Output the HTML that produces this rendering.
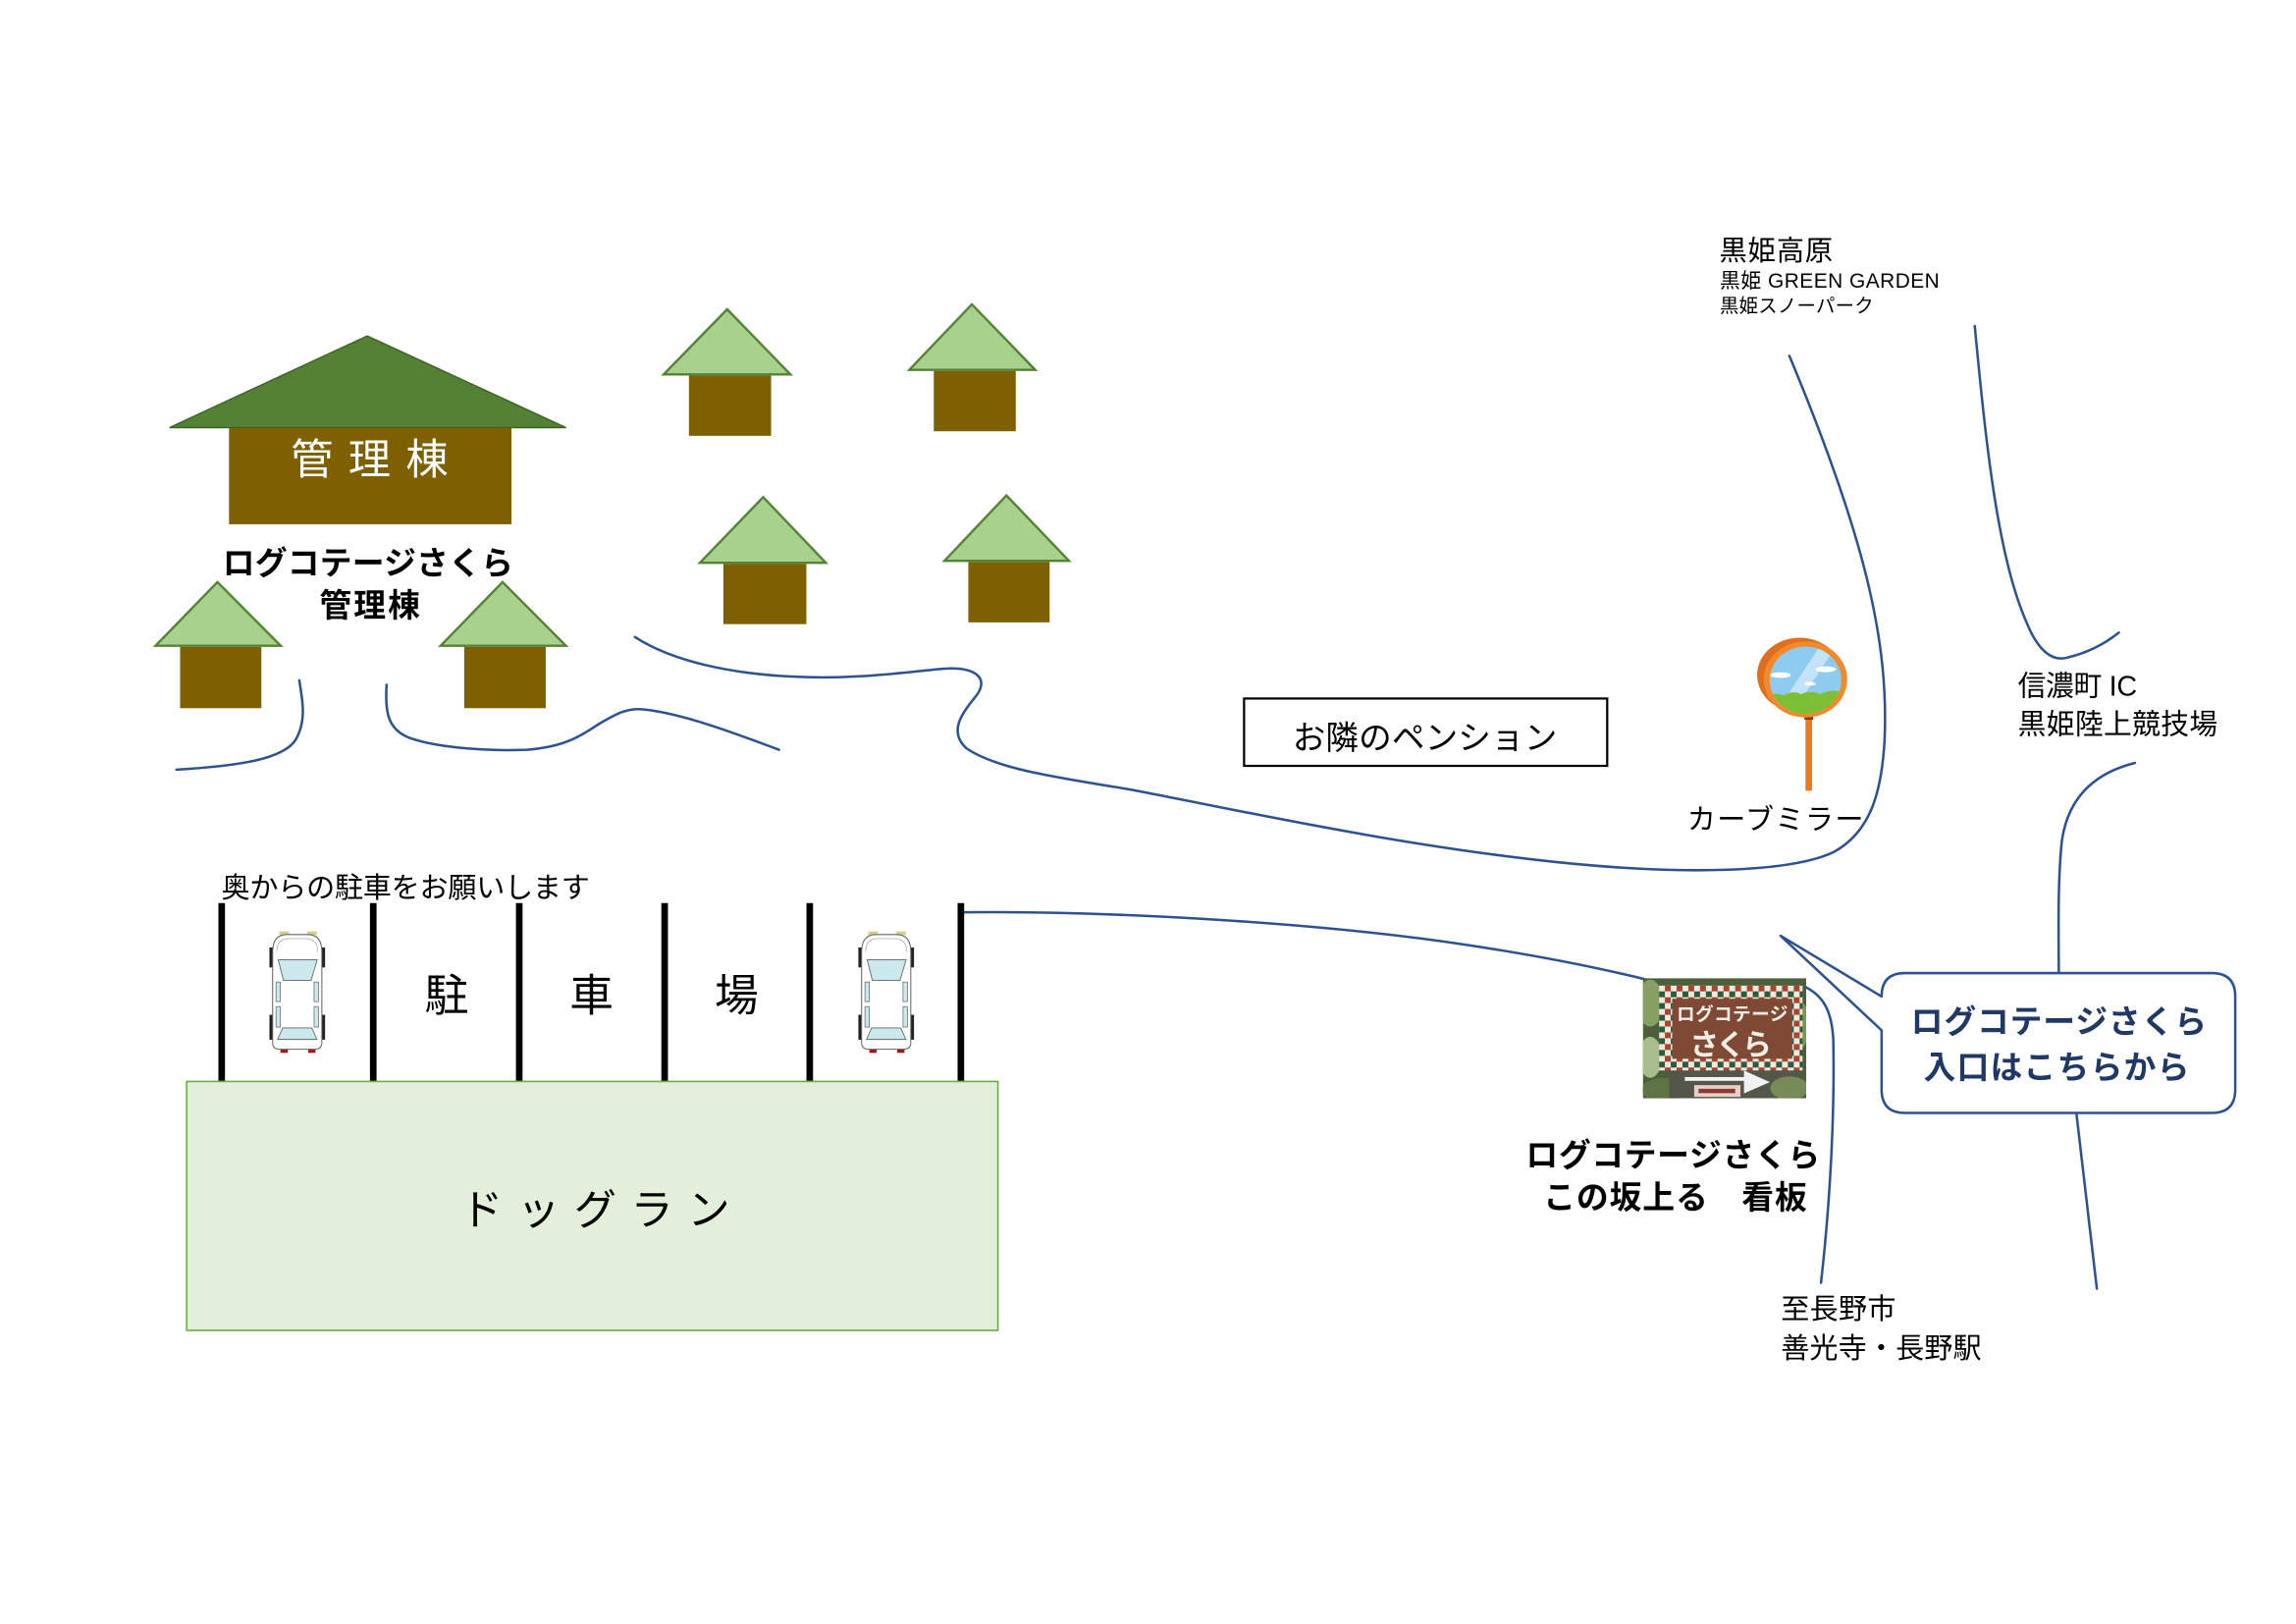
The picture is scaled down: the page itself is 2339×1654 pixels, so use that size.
<!DOCTYPE html>
<html lang="ja">
<head>
<meta charset="utf-8">
<style>
  html,body{margin:0;padding:0;background:#ffffff;}
  svg{display:block;}
  text{font-family:"Liberation Sans","Noto Sans CJK JP",sans-serif;fill:#000;}
  .b{font-weight:bold;}
</style>
</head>
<body>
<svg width="2339" height="1654" viewBox="0 0 1568 1109" preserveAspectRatio="none" xmlns="http://www.w3.org/2000/svg">
  <defs>
    <pattern id="chk" x="1133" y="673" width="8" height="8" patternUnits="userSpaceOnUse">
      <rect x="0" y="0" width="4" height="4" fill="#ece8de"/>
      <rect x="4" y="0" width="4" height="4" fill="#a9452f"/>
      <rect x="0" y="4" width="4" height="4" fill="#2f5a3c"/>
      <rect x="4" y="4" width="4" height="4" fill="#ece8de"/>
    </pattern>
    <clipPath id="gl"><ellipse cx="1233" cy="464.5" rx="24.5" ry="23"/></clipPath>
    <clipPath id="signclip"><rect x="1122" y="668" width="111.5" height="82"/></clipPath>
  </defs>

  <!-- Main house -->
  <polygon points="115.8,292 250.8,229.4 386.5,292" fill="#548235" stroke="#3e6327" stroke-width="1"/>
  <rect x="156.4" y="292.3" width="192.9" height="65.7" fill="#7F6000"/>
  <text x="198.6" y="323.7" font-size="29" textLength="107.5" style="fill:#ffffff">管理棟</text>
  <text class="b" x="152" y="392.2" font-size="22" textLength="198.6">ログコテージさくら</text>
  <text class="b" x="218.1" y="421.1" font-size="22" textLength="68.8">管理棟</text>

  <!-- Small houses -->
  <g stroke="#548235" stroke-width="1.6" fill="#A9D18E">
    <polygon points="453.2,255.7 496.6,211.2 539.8,255.7"/>
    <polygon points="621,252.6 663.7,207.8 707,252.6"/>
    <polygon points="478,384.3 521.2,339.5 564,384.3"/>
    <polygon points="645,383 687.3,338.3 730,383"/>
    <polygon points="106.2,441 148.5,397.5 191.7,441"/>
    <polygon points="300.9,441 343.2,397.5 386.5,441"/>
  </g>
  <g fill="#7F6000">
    <rect x="470.5" y="256.5" width="56.1" height="41.1"/>
    <rect x="637.7" y="253.4" width="56" height="41.1"/>
    <rect x="494" y="385.1" width="56.7" height="41.1"/>
    <rect x="661.3" y="383.8" width="55.5" height="41.2"/>
    <rect x="123" y="441.8" width="55.5" height="41.8"/>
    <rect x="317" y="441.8" width="55.7" height="41.8"/>
  </g>

  <!-- Roads (blue curves) -->
  <g fill="none" stroke="#2E528F" stroke-width="1.7" stroke-linecap="round">
    <path d="M120.5,525.6 C165,523 194,518 202,505 C210,491 206,476 204.4,464.6"/>
    <path d="M264,467.6 C263,485 264,498 280,504 C300,511 335,513 360,512 C385,510 396,503 408,495 C420,488 428,483 440,484.5 C465,487 500,500 532,512"/>
    <path d="M433.6,435 C460,452 500,460 540,462 C580,464 612,460 640,457 C668,454 676,464 666,476 C656,488 648,500 660,511 C680,525 722,531 771,539 C840,552 960,579 1076,590 C1150,597 1222,596 1252,582 C1278,568 1285,540 1287,506 C1290,440 1275,370 1222,243"/>
    <path d="M1348.6,222.6 C1356,300 1364,380 1384,425 C1392,445 1402,452 1412,449 C1425,446 1437,440 1447,432"/>
    <path d="M1458,521 C1430,528 1412,545 1408,575 C1405,605 1406,640 1406,664.5"/>
    <path d="M1418,760 L1432,880"/>
    <path d="M658,623 C760,622 900,630 1000,645 C1060,654 1100,663 1122.6,668.5"/>
    <path d="M1233,674 C1245,680 1251,690 1252,710 C1253,760 1250,820 1243.6,876"/>
  </g>

  <!-- Top-right labels -->
  <text x="1174.2" y="177.6" font-size="19" textLength="77.5">黒姫高原</text>
  <text x="1174.5" y="196.6" font-size="14" textLength="150">黒姫 GREEN GARDEN</text>
  <text x="1174.5" y="213.3" font-size="13" textLength="105">黒姫スノーパーク</text>
  <text x="1378" y="475" font-size="19.3" textLength="81.5">信濃町 IC</text>
  <text x="1378" y="501.3" font-size="19.3" textLength="136.5">黒姫陸上競技場</text>

  <!-- Neighbor pension -->
  <rect x="849.6" y="477" width="248" height="46" fill="#ffffff" stroke="#000" stroke-width="1.5"/>
  <text x="882.7" y="511.6" font-size="22.5" textLength="180.7">お隣のペンション</text>

  <!-- Curve mirror -->
  <rect x="1233" y="488" width="4.5" height="52" fill="#EA7B23"/>
  <rect x="1232.3" y="486.5" width="6" height="5" fill="#8a3d10"/>
  <ellipse cx="1229" cy="461" rx="29" ry="25.5" fill="#E06E1B"/>
  <ellipse cx="1233" cy="464" rx="28.5" ry="26" fill="#EF8A2E"/>
  <g clip-path="url(#gl)">
    <rect x="1205" y="438" width="56" height="52" fill="#8FCBEE"/>
    <polygon points="1212,488 1245,438 1256,438 1222,490" fill="#C3E4F7"/>
    <ellipse cx="1216" cy="461" rx="7" ry="2" fill="#ffffff"/>
    <ellipse cx="1247" cy="457" rx="7" ry="2" fill="#ffffff"/>
    <ellipse cx="1236" cy="467" rx="4" ry="1.3" fill="#ffffff"/>
    <path d="M1205,476 Q1212,472 1218,475 Q1224,471 1230,474 Q1237,471 1243,474 Q1250,470 1261,473 L1261,492 L1205,492 Z" fill="#7DBE37"/>
  </g>
  <text x="1152.2" y="566.4" font-size="19.5" textLength="120.5">カーブミラー</text>

  <!-- Speech bubble -->
  <path d="M1301,664.5 H1510.5 Q1526.5,664.5 1526.5,680.5 V744 Q1526.5,760 1510.5,760 H1301 Q1285,760 1285,744 V703.6 L1216,639 L1285,680.5 Q1285,664.5 1301,664.5 Z" fill="#ffffff" stroke="#2E528F" stroke-width="1.7" stroke-linejoin="round"/>
  <text class="b" x="1305" y="705.4" font-size="22" textLength="202" style="fill:#203864">ログコテージさくら</text>
  <text class="b" x="1313.6" y="736.4" font-size="22" textLength="181.6" style="fill:#203864">入口はこちらから</text>

  <!-- Sign photo -->
  <g clip-path="url(#signclip)">
    <rect x="1122" y="668" width="111.5" height="82" fill="#4d5e3a"/>
    <ellipse cx="1127" cy="685" rx="9" ry="16" fill="#86a064"/>
    <ellipse cx="1127" cy="722" rx="8" ry="14" fill="#a9bc8c"/>
    <ellipse cx="1229" cy="700" rx="7" ry="16" fill="#7a9656"/>
    <ellipse cx="1136" cy="744" rx="15" ry="8" fill="#5f7446"/>
    <rect x="1140" y="731" width="90" height="19" fill="#55564a"/>
    <ellipse cx="1222" cy="743" rx="13" ry="8" fill="#768a5a"/>
    <rect x="1133" y="673" width="98" height="58" fill="url(#chk)"/>
    <rect x="1142" y="682" width="82" height="41" fill="#7f4a35"/>
    <text class="b" x="1145" y="697" font-size="12.5" textLength="76" style="fill:#f4efe6">ログコテージ</text>
    <text class="b" x="1154" y="720.5" font-size="20" textLength="56" style="fill:#f4efe6">さくら</text>
    <rect x="1150.6" y="735.5" width="41" height="2.6" fill="#f2f2f2"/>
    <polygon points="1191,731 1208.7,739 1191,746.7" fill="#f2f2f2"/>
    <rect x="1157" y="741" width="31.6" height="8" fill="#e6cfc8"/>
    <rect x="1160" y="743.5" width="25" height="3" fill="#8a3a30"/>
  </g>
  <text class="b" x="1042" y="796.4" font-size="22" textLength="201">ログコテージさくら</text>
  <text class="b" x="1054" y="825.4" font-size="22" textLength="180">この坂上る　看板</text>

  <text x="1216.2" y="900.4" font-size="19.5" textLength="78.6">至長野市</text>
  <text x="1216.2" y="927.4" font-size="19.5" textLength="137">善光寺・長野駅</text>

  <!-- Parking -->
  <text x="151.2" y="612.9" font-size="19.5" textLength="251.6">奥からの駐車をお願いします</text>
  <g stroke="#000" stroke-width="4.5">
    <line x1="151.4" y1="616.7" x2="151.4" y2="739"/>
    <line x1="254.9" y1="616.7" x2="254.9" y2="739"/>
    <line x1="354.6" y1="616.7" x2="354.6" y2="739"/>
    <line x1="453.9" y1="616.7" x2="453.9" y2="739"/>
    <line x1="553" y1="616.7" x2="553" y2="739"/>
    <line x1="656.2" y1="616.7" x2="656.2" y2="739"/>
  </g>
  <text x="305" y="690.4" font-size="30" text-anchor="middle">駐</text>
  <text x="404" y="690.4" font-size="30" text-anchor="middle">車</text>
  <text x="503" y="690.4" font-size="30" text-anchor="middle">場</text>

  <!-- Car 1 -->
  <g transform="translate(184,636)">
    <rect x="6.7" y="0" width="6.7" height="2.5" fill="#d8cf8a"/>
    <rect x="25.7" y="0" width="6.7" height="2.5" fill="#d8cf8a"/>
    <rect x="7.5" y="80" width="5" height="3" fill="#a01818"/>
    <rect x="26.5" y="80" width="5" height="3" fill="#a01818"/>
    <rect x="0" y="11" width="3" height="13.6" fill="#222"/>
    <rect x="0" y="57" width="3" height="17" fill="#222"/>
    <rect x="35" y="11" width="3" height="13.6" fill="#222"/>
    <rect x="35" y="57" width="3" height="17" fill="#222"/>
    <path d="M2.2,14 Q2.2,2.2 12,2.2 H26 Q35.8,2.2 35.8,14 V76 Q35.8,80.5 31,80.5 H7 Q2.2,80.5 2.2,76 Z" fill="#ffffff" stroke="#666" stroke-width="0.7"/>
    <path d="M5,14 Q5,5 13,5 H25 Q33,5 33,14" fill="none" stroke="#aaa" stroke-width="0.5"/>
    <polygon points="6,19.4 32.6,19.4 28.4,33.5 9.6,33.5" fill="#CBE8EC" stroke="#666" stroke-width="0.6"/>
    <polygon points="9,66 29,66 32.4,73.8 5.6,73.8" fill="#CBE8EC" stroke="#666" stroke-width="0.6"/>
    <rect x="4.5" y="34.6" width="3" height="13.4" fill="#CBE8EC" stroke="#666" stroke-width="0.5"/>
    <rect x="4.5" y="51.4" width="3" height="14" fill="#CBE8EC" stroke="#666" stroke-width="0.5"/>
    <rect x="30.5" y="34.6" width="3" height="13.4" fill="#CBE8EC" stroke="#666" stroke-width="0.5"/>
    <rect x="30.5" y="51.4" width="3" height="14" fill="#CBE8EC" stroke="#666" stroke-width="0.5"/>
  </g>
  <!-- Car 2 -->
  <g transform="translate(586.2,636)">
    <rect x="6.7" y="0" width="6.7" height="2.5" fill="#d8cf8a"/>
    <rect x="25.7" y="0" width="6.7" height="2.5" fill="#d8cf8a"/>
    <rect x="7.5" y="80" width="5" height="3" fill="#a01818"/>
    <rect x="26.5" y="80" width="5" height="3" fill="#a01818"/>
    <rect x="0" y="11" width="3" height="13.6" fill="#222"/>
    <rect x="0" y="57" width="3" height="17" fill="#222"/>
    <rect x="35" y="11" width="3" height="13.6" fill="#222"/>
    <rect x="35" y="57" width="3" height="17" fill="#222"/>
    <path d="M2.2,14 Q2.2,2.2 12,2.2 H26 Q35.8,2.2 35.8,14 V76 Q35.8,80.5 31,80.5 H7 Q2.2,80.5 2.2,76 Z" fill="#ffffff" stroke="#666" stroke-width="0.7"/>
    <path d="M5,14 Q5,5 13,5 H25 Q33,5 33,14" fill="none" stroke="#aaa" stroke-width="0.5"/>
    <polygon points="6,19.4 32.6,19.4 28.4,33.5 9.6,33.5" fill="#CBE8EC" stroke="#666" stroke-width="0.6"/>
    <polygon points="9,66 29,66 32.4,73.8 5.6,73.8" fill="#CBE8EC" stroke="#666" stroke-width="0.6"/>
    <rect x="4.5" y="34.6" width="3" height="13.4" fill="#CBE8EC" stroke="#666" stroke-width="0.5"/>
    <rect x="4.5" y="51.4" width="3" height="14" fill="#CBE8EC" stroke="#666" stroke-width="0.5"/>
    <rect x="30.5" y="34.6" width="3" height="13.4" fill="#CBE8EC" stroke="#666" stroke-width="0.5"/>
    <rect x="30.5" y="51.4" width="3" height="14" fill="#CBE8EC" stroke="#666" stroke-width="0.5"/>
  </g>

  <!-- Dog run -->
  <rect x="127.5" y="738.5" width="554" height="170" fill="#E2EFDA" stroke="#70AD47" stroke-width="1.1"/>
  <text x="314.5" y="836.5" font-size="29" textLength="184">ドッグラン</text>
</svg>
</body>
</html>
